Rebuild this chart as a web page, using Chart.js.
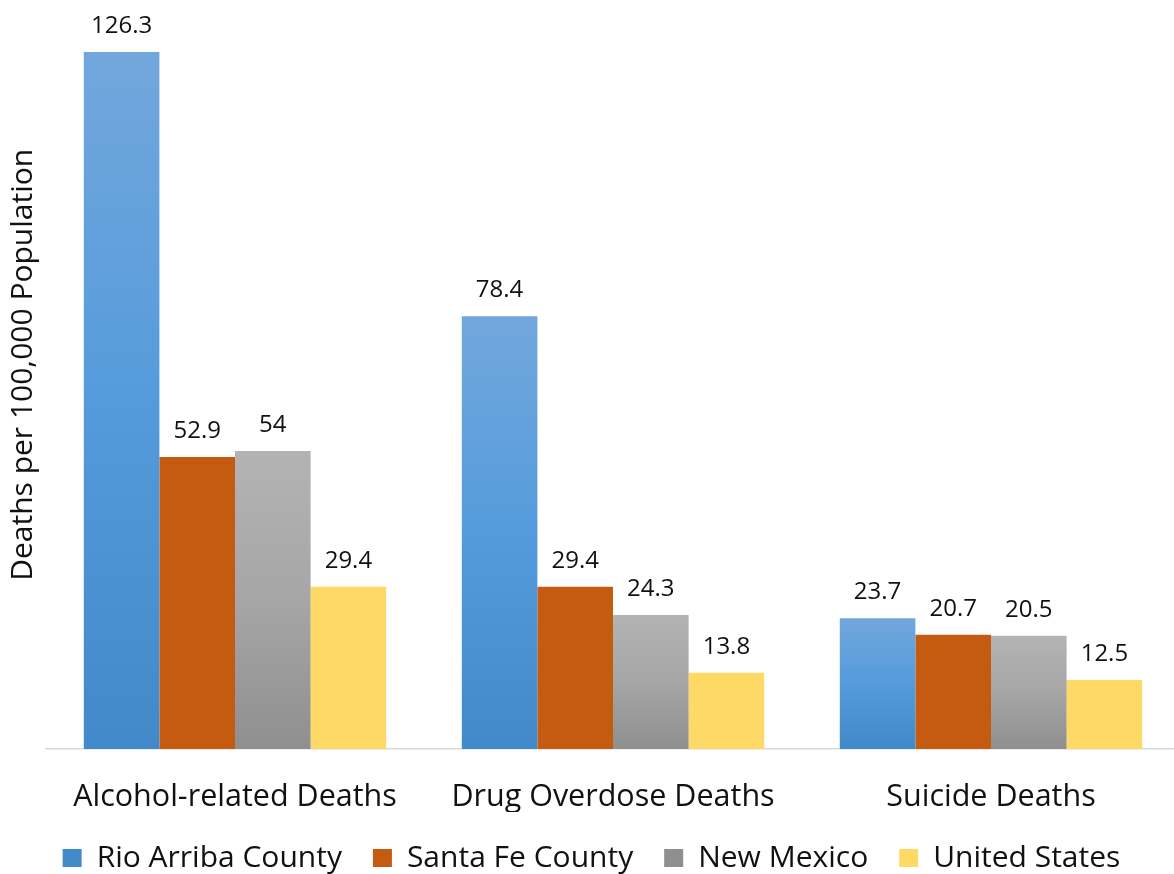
<!DOCTYPE html>
<html>
<head>
<meta charset="utf-8">
<script src="https://cdn.jsdelivr.net/npm/chart.js@4/dist/chart.umd.min.js"></script>
<style>
    html, body { margin: 0; padding: 0; background: #fff; overflow: hidden; }
    #wrap { width: 1180px; height: 883px; position: relative; }
</style>
</head>
<body>
<div id="wrap"><canvas id="deaths-chart"></canvas></div>
<script>
const categories = ['Alcohol-related Deaths', 'Drug Overdose Deaths', 'Suicide Deaths'];
const seriesNames = ['Rio Arriba County', 'Santa Fe County', 'New Mexico', 'United States'];
const rioArriba = [126.3, 78.4, 23.7];
const santaFe = [52.9, 29.4, 20.7];
const newMexico = [54, 24.3, 20.5];
const unitedStates = [29.4, 13.8, 12.5];
const yTitle = 'Deaths per 100,000 Population';

const FONT = '"Open Sans", sans-serif';
const TEXT = '#111111';

// gradient stops for the shaded series, top -> bottom of each bar
const blueStops = ['#72a7dc', '#559bdc', '#4189c9'];
const grayStops = ['#b3b3b3', '#a6a6a6', '#8f8f8f'];

function barGradient(stops, flat) {
    return (ctx) => {
        const chart = ctx.chart;
        const y = chart.scales.y;
        if (!chart.chartArea || !y || ctx.raw === undefined) return flat;
        const top = y.getPixelForValue(ctx.raw);
        const bottom = y.getPixelForValue(0);
        const g = chart.ctx.createLinearGradient(0, top, 0, bottom);
        g.addColorStop(0, stops[0]);
        g.addColorStop(0.5, stops[1]);
        g.addColorStop(1, stops[2]);
        return g;
    };
}

const valueLabels = {
    id: 'valueLabels',
    afterDatasetsDraw(chart) {
        const ctx = chart.ctx;
        ctx.save();
        ctx.font = '24px ' + FONT;
        ctx.fillStyle = TEXT;
        ctx.textAlign = 'center';
        ctx.textBaseline = 'alphabetic';
        chart.data.datasets.forEach((ds, i) => {
            const meta = chart.getDatasetMeta(i);
            meta.data.forEach((bar, j) => {
                ctx.fillText(String(ds.data[j]), bar.x, bar.y - 19);
            });
        });
        ctx.restore();
    },
};

const graph = document.getElementById('deaths-chart');
const config = {
    type: 'bar',
    data: {
        labels: categories,
        datasets: [
            { label: seriesNames[0], data: rioArriba, backgroundColor: barGradient(blueStops, '#5b9bd5') },
            { label: seriesNames[1], data: santaFe, backgroundColor: '#c55a11' },
            { label: seriesNames[2], data: newMexico, backgroundColor: barGradient(grayStops, '#a5a5a5') },
            { label: seriesNames[3], data: unitedStates, backgroundColor: '#ffd966' },
        ],
    },
    options: {
        responsive: true,
        maintainAspectRatio: false,
        animation: false,
        layout: { padding: { top: 4, left: 3, right: 0, bottom: 0 } },
        datasets: {
            bar: { categoryPercentage: 0.8, barPercentage: 1.0, borderWidth: 0 },
        },
        scales: {
            x: {
                grid: { display: false, drawTicks: false },
                border: { display: true, color: '#d9d9d9', width: 1.5 },
                ticks: { font: { family: FONT, size: 30.5, lineHeight: 1.2 }, color: TEXT, padding: 30 },
                afterFit: (scale) => {
                    scale.height = 63;
                },
            },
            y: {
                min: 0,
                max: 135,
                grid: { display: false, drawTicks: false },
                border: { display: false },
                ticks: { display: false },
                title: {
                    display: true,
                    text: '   ' + yTitle,
                    font: { family: FONT, size: 30, lineHeight: 1.2 },
                    color: TEXT,
                    padding: { top: 2, bottom: 5 },
                },
            },
        },
        plugins: {
            legend: {
                position: 'bottom',
                labels: {
                    font: { family: FONT, size: 30 },
                    color: TEXT,
                    boxWidth: 19,
                    boxHeight: 18,
                    padding: 31,
                },
            },
            tooltip: { enabled: false },
        },
    },
    plugins: [valueLabels],
};
new Chart(graph, config);
</script>
</body>
</html>
